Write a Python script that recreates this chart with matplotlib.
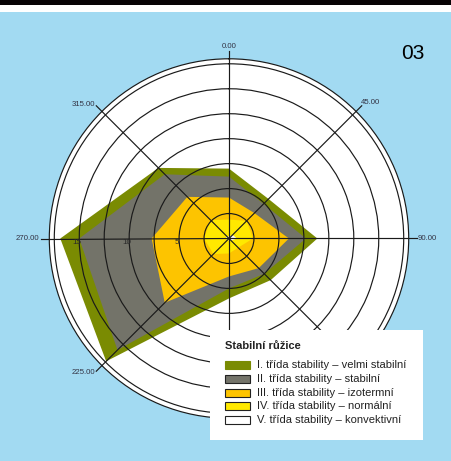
import numpy as np
import matplotlib
matplotlib.use("Agg")
import matplotlib.pyplot as plt
from matplotlib.patches import Rectangle

plt.rcParams['font.family'] = ['Liberation Sans', 'DejaVu Sans']

# ---- data ----
directions = [0, 45, 90, 135, 180, 225, 270, 315]
dir_labels = ["0.00", "45.00", "90.00", "135.00", "180.00", "225.00", "270.00", "315.00"]
hidden_dirs = [135, 180]  # labels covered by the legend box in the reference
class_I   = [7.0, 5.6, 8.85, 5.9, 6.0, 17.4, 16.9, 10.0]
class_II  = [6.2, 4.9, 7.7, 5.0, 5.0, 15.8, 15.0, 9.1]
class_III = [4.1, 3.6, 6.0, 4.2, 3.8, 9.1, 7.75, 5.9]
class_IV  = [1.9, 2.5, 2.4, 1.3, 1.5, 2.2, 2.5, 2.6]
class_V   = [0.2, 0.5, 0.8, 0.3, 0.2, 0.2, 0.3, 0.3]
series_labels = ["I. třída stability – velmi stabilní",
                 "II. třída stability – stabilní",
                 "III. třída stability – izotermní",
                 "IV. třída stability – normální",
                 "V. třída stability – konvektivní"]
radial_ticks = [2.5, 5, 7.5, 10, 12.5, 15, 17.5]
radial_labels = ["5", "10", "15"]
legend_title = "Stabilní růžice"
panel_id = "03"

colors = ['#7a8b02', '#737369', '#fdc400', '#ffe900', '#ffffff']
edges = ['#7a8b02', '#222222', '#222222', '#222222', '#222222']
blue = '#a2daf2'

W, H = 452, 461
fig = plt.figure(figsize=(W / 100, H / 100), dpi=100, facecolor=blue)

# header bands
fig.patches.append(Rectangle((0, 1 - 5 / H), 1, 5 / H, transform=fig.transFigure,
                             facecolor='#070305', edgecolor='none', zorder=0))
fig.patches.append(Rectangle((0, 1 - 12 / H), 1, 7 / H, transform=fig.transFigure,
                             facecolor='white', edgecolor='none', zorder=0))

cx, cy, R = 229, 238.5, 179.7
ax = fig.add_axes([(cx - R) / W, (H - cy - R) / H, 2 * R / W, 2 * R / H],
                  projection='polar')
ax.set_facecolor('white')
ax.set_theta_zero_location('N')
ax.set_theta_direction(-1)
ax.set_ylim(0, 18)

th = np.deg2rad(directions)
series = [class_I, class_II, class_III, class_IV, class_V]
for vals, col in zip(series, colors):
    ax.fill(th, vals, facecolor=col, edgecolor='none', zorder=1)

ax.set_rticks(radial_ticks)
ax.set_yticklabels([])
ax.set_thetagrids(directions, labels=[])
ax.set_axisbelow(False)
ax.grid(True, color='#1a1a1a', linewidth=0.85)
ax.spines['polar'].set_color('#1a1a1a')
ax.spines['polar'].set_linewidth(0.85)
ax.tick_params(length=0, pad=0)

# angle ticks and labels outside
aligns = {0: ('center', 'bottom', 18.9), 45: ('left', 'bottom', 18.75),
          90: ('left', 'center', 18.85), 225: ('right', 'center', 19.0),
          270: ('right', 'center', 19.0), 315: ('right', 'center', 19.0)}
for d, lab in zip(directions, dir_labels):
    t = np.deg2rad(d)
    ax.plot([t, t], [18, 18.8], color='#1a1a1a', lw=0.85, clip_on=False, zorder=3)
    if d in hidden_dirs:
        continue
    ha, va, rr = aligns[d]
    ax.text(t, rr, lab, ha=ha, va=va, fontsize=5.6, color='#333344', clip_on=False)

for v, lab in zip([5, 10, 15], radial_labels):
    ax.text(np.deg2rad(270), v + 0.2, lab, ha='center', va='top', fontsize=5.8,
            color='#2a2a2a', zorder=4)

# panel id
fig.text(401 / W, 1 - 59 / H, panel_id, ha='left', va='baseline', fontsize=15,
         color='black')

# legend box (manual)
def fx(x):
    return x / W

def fy(y):
    return 1 - y / H

fig.patches.append(Rectangle((fx(210), fy(440)), 213 / W, 110 / H,
                             transform=fig.transFigure, facecolor='white',
                             edgecolor='none', zorder=10))
fig.text(fx(225), fy(346), legend_title, ha='left', va='center', fontsize=8,
         fontweight='bold', color='#222222', zorder=11)
row_y = [365, 379, 392.5, 406, 420]
for yy, col, ec, lab in zip(row_y, colors, edges, series_labels):
    fig.patches.append(Rectangle((fx(225), fy(yy + 4)), 25 / W, 8 / H,
                                 transform=fig.transFigure, facecolor=col,
                                 edgecolor=ec, linewidth=0.8, zorder=11))
    fig.text(fx(257), fy(yy), lab, ha='left', va='center', fontsize=8,
             color='#222222', zorder=11)

fig.savefig('out.png', dpi=100, facecolor=blue)
